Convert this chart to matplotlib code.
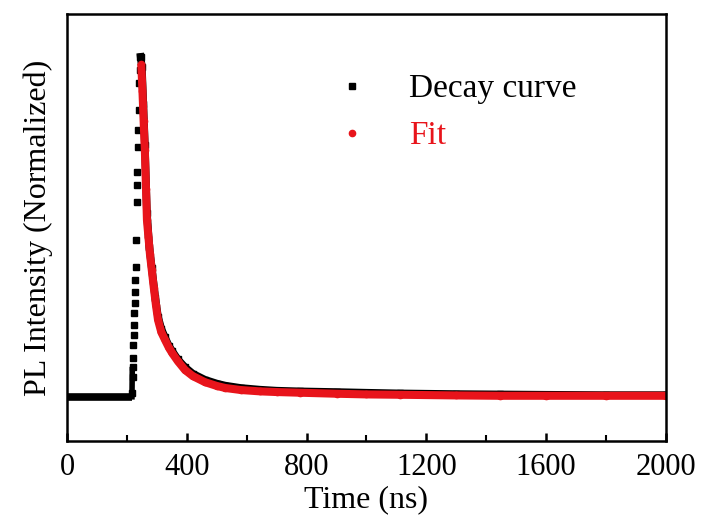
import matplotlib.pyplot as plt
from matplotlib.lines import Line2D

# decay curve (normalized PL), time in ns
t_base = [0, 40, 80, 120, 160, 200, 217]
i_base = [0, 0, 0, 0, 0, 0, 0]

t_rise = [218, 219, 220, 221, 222, 223, 224, 225, 226, 227, 228, 229,
          231, 233, 234, 235, 237, 238, 240, 242, 243, 244]
i_rise = [0.012, 0.059, 0.088, 0.115, 0.153, 0.182, 0.212, 0.247, 0.276,
          0.309, 0.344, 0.382, 0.462, 0.574, 0.624, 0.662, 0.735, 0.785,
          0.844, 0.924, 0.962, 1.0]

t_decay = [246, 250, 255, 260, 267, 275, 283, 295, 304, 315, 327, 340, 351,
           370, 394, 420, 461, 500, 528, 580, 644, 700, 778, 900, 1000, 1112,
           1300, 1446, 1600, 1800, 2000]
i_decay = [1.0, 0.97, 0.86, 0.74, 0.54, 0.44, 0.38, 0.29, 0.235, 0.2, 0.175,
           0.15, 0.135, 0.11, 0.087, 0.068, 0.05, 0.039, 0.033, 0.026, 0.021,
           0.018, 0.016, 0.014, 0.012, 0.01, 0.008, 0.007, 0.006, 0.005, 0.005]

# fitted curve
t_fit = [248, 252, 256, 260, 264, 267, 272, 277, 283, 290, 297, 304, 315,
         327, 340, 351, 370, 394, 420, 461, 500, 528, 580, 644, 700, 778,
         900, 1000, 1112, 1300, 1446, 1600, 1800, 2000]
i_fit = [0.98, 0.90, 0.81, 0.726, 0.61, 0.52, 0.47, 0.42, 0.374, 0.32, 0.27,
         0.226, 0.19, 0.168, 0.145, 0.129, 0.105, 0.079, 0.061, 0.043, 0.032,
         0.026, 0.02, 0.016, 0.014, 0.012, 0.009, 0.007, 0.006, 0.004,
         0.003, 0.003, 0.003, 0.003]

plt.rcParams['font.family'] = ['Liberation Serif', 'DejaVu Serif']

fig = plt.figure(figsize=(7.02, 5.23), dpi=100)
ax = fig.add_axes([0.0954, 0.1568, 0.8533, 0.8164])

ax.plot(t_base, i_base, color='black', lw=5.5, solid_capstyle='butt')
ax.plot([217, 218], [0, 0.08], color='black', lw=4)
ax.plot(t_rise, i_rise, 's', color='black', ms=5, ls='none')
ax.plot(t_decay, i_decay, color='black', lw=5.5, marker='s', ms=4.5)
ax.plot(t_fit, i_fit, color='#e8141b', lw=5.8, marker='o', ms=4.5,
        solid_capstyle='butt')

ax.set_xlim(0, 2000)
ax.set_ylim(-0.13, 1.126)
ax.set_xticks([0, 400, 800, 1200, 1600, 2000])
ax.set_xticks([200, 600, 1000, 1400, 1800], minor=True)
ax.set_yticks([])
ax.tick_params(axis='x', which='major', direction='in', length=6, width=1.8,
               labelsize=22, pad=9)
ax.tick_params(axis='x', which='minor', direction='in', length=4, width=1.5)
for s in ax.spines.values():
    s.set_linewidth(1.8)

ax.set_xlabel('Time (ns)', fontsize=23, labelpad=2)
ax.set_ylabel('PL Intensity (Normalized)', fontsize=23, labelpad=10)

handles = [Line2D([], [], marker='s', color='black', ls='none', ms=4),
           Line2D([], [], marker='o', color='#e8141b', ls='none', ms=4.5)]
ax.legend(handles, ['Decay curve', 'Fit'], loc='upper left',
          bbox_to_anchor=(0.448, 0.86), frameon=False, fontsize=24,
          handlelength=1.0, handletextpad=1.2, labelspacing=0.5,
          borderpad=0, borderaxespad=0, labelcolor=['black', '#e8141b'])

plt.savefig('out.png', dpi=100)
